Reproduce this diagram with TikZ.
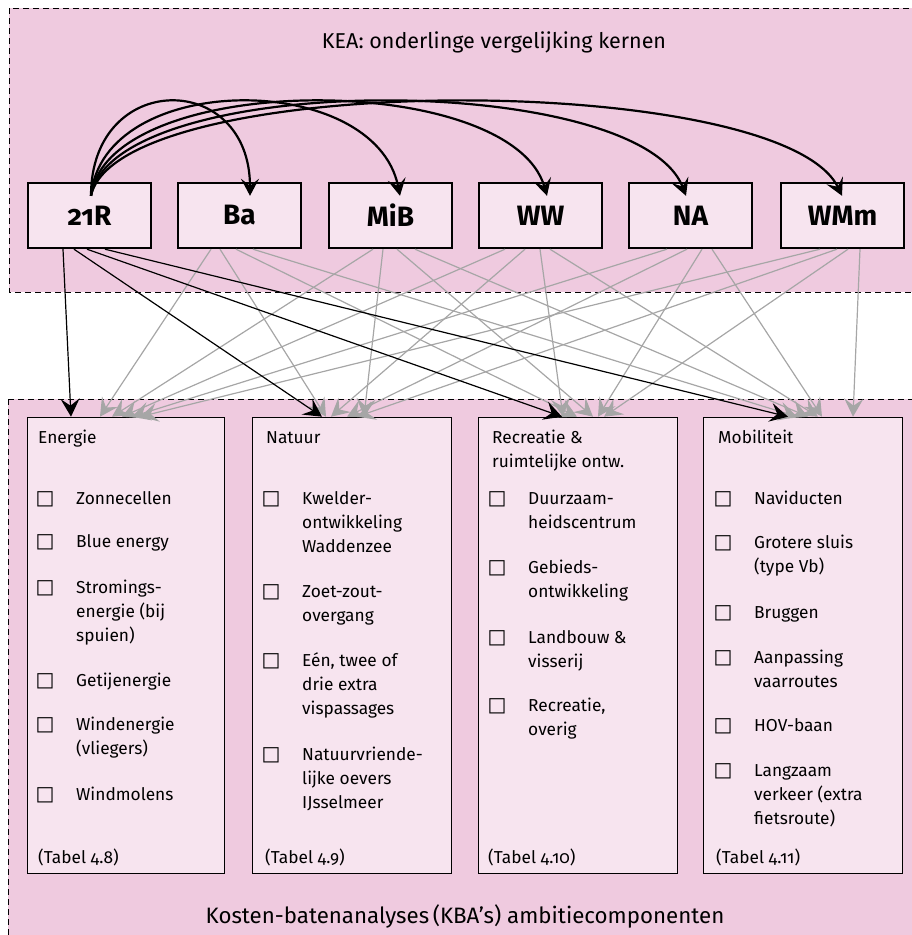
\documentclass[tikz,border=0pt]{standalone}
\usepackage{fontspec}
\setmainfont{Fira Sans}[Numbers=OldStyle]
\newfontfamily\symf{DejaVu Sans}
\usetikzlibrary{arrows.meta}
\definecolor{regionpink}{RGB}{239,202,223}
\definecolor{boxpink}{RGB}{247,228,239}
\definecolor{linegrey}{RGB}{166,166,166}
\tikzset{
 region/.style={fill=regionpink, draw=black, dash pattern=on 6pt off 4pt, line width=1pt},
 kern/.style={draw=black, fill=boxpink, line width=2.4pt, minimum width=123pt, minimum height=65pt, inner sep=0pt, font=\fontsize{28}{30}\selectfont\bfseries},
 comp/.style={draw=black, fill=boxpink, line width=1.4pt, inner sep=0pt, anchor=north west},
 curvearrow/.style={line width=2.2pt, -{Stealth[length=17pt,width=18pt,inset=7pt]}},
 blackarrow/.style={line width=1.2pt, black, -{Stealth[length=18pt,width=19pt,inset=7pt]}},
 greyarrow/.style={line width=1.2pt, linegrey, -{Stealth[length=18pt,width=19pt,inset=7pt]}},
 txt/.style={anchor=base west, inner sep=0pt, font=\fontsize{17.3}{24}\selectfont},
 chk/.style={anchor=base, inner sep=0pt, font=\fontsize{20}{24}\selectfont\symf},
 title/.style={anchor=base, inner sep=0pt, font=\fontsize{21.5}{25}\selectfont},
}
\begin{document}
\begin{tikzpicture}[x=1pt,y=-1pt]
\useasboundingbox (0,0) rectangle (912,935);
\clip (0,0) rectangle (912,935);
% regions
\draw[region] (9,8) rectangle (940,292);
\draw[region] (8,399) rectangle (940,960);
\node[title] (kea) at (494,48) {KEA: onderlinge vergelijking kernen};
\node[title, font=\fontsize{22.3}{26}\selectfont] (kba) at (465,923) {Kosten-batenanalyses\,(KBA’s) ambitiecomponenten};
% kernen
\node[kern] (k21) at (89.5,215.5) {21R};
\node[kern] (kba2) at (239.5,215.5) {Ba};
\node[kern] (kmib) at (390.5,215.5) {MiB};
\node[kern] (kww) at (540.5,215.5) {WW};
\node[kern] (kna) at (690.5,215.5) {NA};
\node[kern] (kwm) at (842.5,215.5) {WMm};
% components
\node[comp, minimum width=197pt, minimum height=456pt] (en) at (26.7,416.7) {};
\node[comp, minimum width=199pt, minimum height=456pt] (na) at (251.7,416.7) {};
\node[comp, minimum width=199pt, minimum height=456pt] (re) at (477.7,416.7) {};
\node[comp, minimum width=199pt, minimum height=456pt] (mo) at (702.7,416.7) {};
% curved arrows from 21R
\coordinate (cs) at ([yshift=-14pt]k21.north -| 91,0);
\draw[curvearrow] (cs) .. controls (91,70) and (250,70) .. ([yshift=-14pt]kba2.north -| 250,0);
\draw[curvearrow] (cs) .. controls (103,70) and (375,70) .. ([yshift=-14pt]kmib.north -| 400,0);
\draw[curvearrow] (cs) .. controls (108,70) and (511,70) .. ([yshift=-14pt]kww.north -| 547,0);
\draw[curvearrow] (cs) .. controls (113,70) and (638,70) .. ([yshift=-14pt]kna.north -| 686,0);
\draw[curvearrow] (cs) .. controls (118,70) and (782,70) .. ([yshift=-14pt]kwm.north -| 842,0);
% grey connectors
\foreach \k/\a/\b/\c/\d/\ta/\tb/\tc/\td in {
  kba2/211/220/236/253/100/326/577/797,
  kmib/373/383/397/415/112/364/593/808,
  kww/505/525/540/550/122/331/563/818,
  kna/667/687/702/712/132/347/598/822,
  kwm/820/837/848/860/140/357/604/853}{
  \draw[greyarrow] (\k.south -| \a,0) -- (en.north -| \ta,0);
  \draw[greyarrow] (\k.south -| \b,0) -- (na.north -| \tb,0);
  \draw[greyarrow] (\k.south -| \c,0) -- (re.north -| \tc,0);
  \draw[greyarrow] (\k.south -| \d,0) -- (mo.north -| \td,0);
}
% black connectors
\draw[blackarrow] (k21.south -| 63,0) -- (en.north -| 71,0);
\draw[blackarrow] (k21.south -| 74,0) -- (na.north -| 322,0);
\draw[blackarrow] (k21.south -| 87,0) -- (re.north -| 562,0);
\draw[blackarrow] (k21.south -| 105,0) -- (mo.north -| 788,0);
% Energie
\node[txt] (enh) at (38,443) {Energie};
\foreach \n/\y in {1/504,2/547,3/593,4/686,5/730,6/800} \node[chk] (enc\n) at (45,\y) {□};
\foreach \n/\y/\t in {1/504/Zonnecellen,2/547/Blue energy,3/593/Stromings-,4/617/energie (bij,5/641/spuien),6/686/Getijenergie,7/730/Windenergie,8/754/(vliegers),9/800/Windmolens}
  \node[txt] (ent\n) at (76,\y) {\t};
\node[txt] (ent) at (38,863) {(Tabel 4.8)};
% Natuur
\node[txt] (nah) at (266,443) {Natuur};
\foreach \n/\y in {1/504,2/597,3/666,4/760} \node[chk] (nac\n) at (271,\y) {□};
\foreach \n/\y/\t in {1/504/Kwelder-,2/528/ontwikkeling,3/552/Waddenzee,4/597/Zoet-zout-,5/621/overgang,6/666/{Eén, twee of},7/690/drie extra,8/714/vispassages,9/760/Natuurvriende-,10/784/lijke oevers,11/808/IJsselmeer}
  \node[txt] (nat\n) at (302,\y) {\t};
\node[txt] (nat) at (265,863) {(Tabel 4.9)};
% Recreatie
\node[txt] (reh) at (492,443) {Recreatie \&};
\node[txt] (reh2) at (492,467) {ruimtelijke ontw.};
\foreach \n/\y in {1/504,2/573,3/643,4/711} \node[chk] (rec\n) at (497,\y) {□};
\foreach \n/\y/\t in {1/504/Duurzaam-,2/528/heidscentrum,3/573/Gebieds-,4/597/ontwikkeling,5/643/Landbouw \&,6/667/visserij,7/711/{Recreatie,},8/735/overig}
  \node[txt] (ret\n) at (528,\y) {\t};
\node[txt] (ret) at (488,863) {(Tabel 4.10)};
% Mobiliteit
\node[txt] (moh) at (718,443) {Mobiliteit};
\foreach \n/\y in {1/504,2/548,3/618,4/663,5/731,6/776} \node[chk] (moc\n) at (723,\y) {□};
\foreach \n/\y/\t in {1/504/Naviducten,2/548/Grotere sluis,3/572/(type Vb),4/618/Bruggen,5/663/Aanpassing,6/687/vaarroutes,7/731/HOV-baan,8/776/Langzaam,9/800/verkeer (extra,10/824/fietsroute)}
  \node[txt] (mot\n) at (754,\y) {\t};
\node[txt] (mot) at (716,863) {(Tabel 4.11)};
\end{tikzpicture}
\end{document}
